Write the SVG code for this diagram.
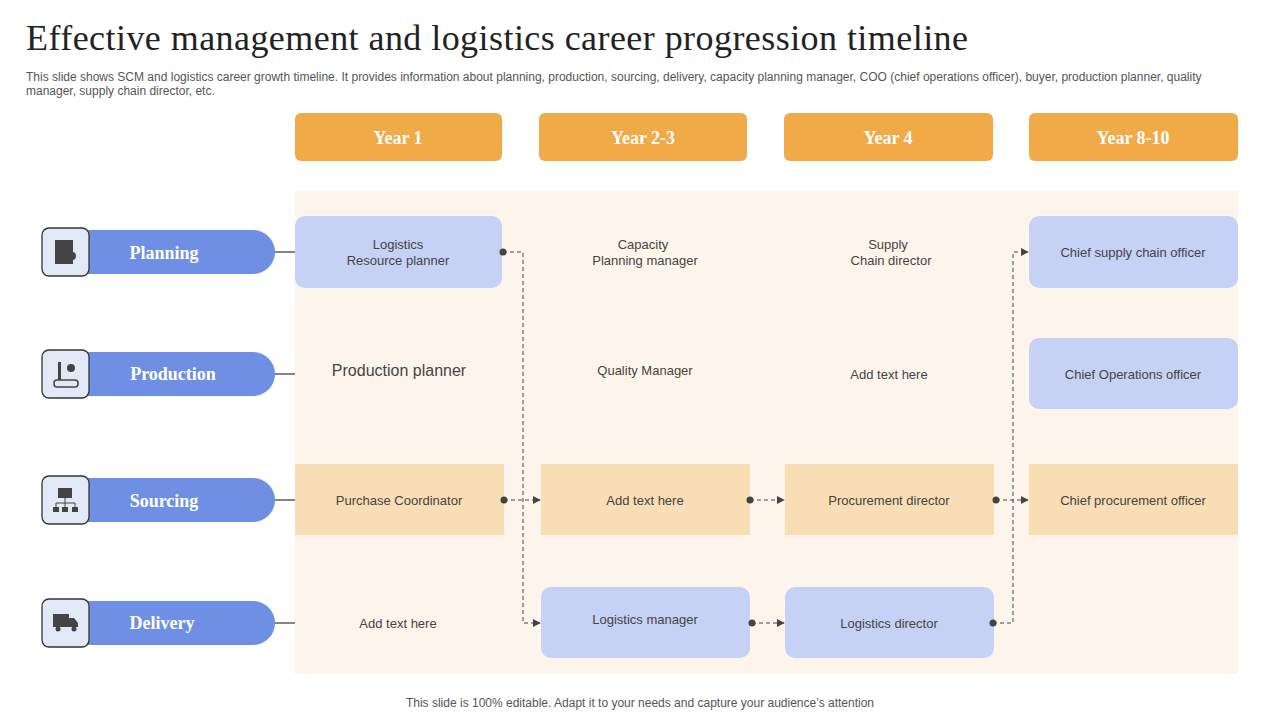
<svg xmlns="http://www.w3.org/2000/svg" width="1280" height="720" viewBox="0 0 1280 720">
<defs>
<style>
.title{font-family:"Liberation Serif",serif;font-size:36px;fill:#222}
.sub{font-family:"Liberation Sans",sans-serif;font-size:12px;fill:#555}
.hdr{fill:#F0AA48}
.hdrt{font-family:"Liberation Serif",serif;font-weight:bold;font-size:18px;fill:#fff;text-anchor:middle}
.pill{fill:#6F8FE5}
.pillt{font-family:"Liberation Serif",serif;font-weight:bold;font-size:18px;fill:#fff;text-anchor:middle}
.ibox{fill:#E3E8F7;stroke:#333;stroke-width:1.3}
.ic{fill:#444}
.blue{fill:#C5D2F5}
.org{fill:#F8DDB5}
.t{font-family:"Liberation Sans",sans-serif;font-size:13px;fill:#444;text-anchor:middle}
.con{fill:none;stroke:#444;stroke-width:1;stroke-dasharray:4 3}
.sol{stroke:#333;stroke-width:1.2}
</style>
<marker id="arr" viewBox="0 0 10 10" refX="9" refY="5" markerWidth="8" markerHeight="8" markerUnits="userSpaceOnUse" orient="auto"><path d="M0,0L10,5L0,10z" fill="#444"/></marker>
</defs>
<rect width="1280" height="720" fill="#fff"/>
<text class="title" x="26" y="50" textLength="942" lengthAdjust="spacing">Effective management and logistics career progression timeline</text>
<text class="sub" x="26" y="81">This slide shows SCM and logistics career growth timeline. It provides information about planning, production, sourcing, delivery, capacity planning manager, COO (chief operations officer), buyer, production planner, quality</text>
<text class="sub" x="26" y="95">manager, supply chain director, etc.</text>

<g id="headers">
<rect class="hdr" x="295" y="113" width="207" height="48" rx="6"/><text class="hdrt" x="398" y="144">Year 1</text>
<rect class="hdr" x="539" y="113" width="208" height="48" rx="6"/><text class="hdrt" x="643" y="144">Year 2-3</text>
<rect class="hdr" x="784" y="113" width="209" height="48" rx="6"/><text class="hdrt" x="888" y="144">Year 4</text>
<rect class="hdr" x="1029" y="113" width="209" height="48" rx="6"/><text class="hdrt" x="1133" y="144">Year 8-10</text>
</g>
<rect x="295" y="191" width="943" height="483" fill="#FDF5EC"/>

<g id="rows">
<line class="sol" x1="274" y1="252" x2="295" y2="252"/>
<line class="sol" x1="274" y1="374" x2="295" y2="374"/>
<line class="sol" x1="274" y1="500" x2="295" y2="500"/>
<line class="sol" x1="274" y1="623" x2="295" y2="623"/>
</g>
<g id="planning"><path class="pill" d="M70,230H253a22,22 0 0 1 0,44H70z"/><text class="pillt" x="164" y="259">Planning</text>
<rect class="ibox" x="42" y="228" width="47" height="48" rx="7"/><rect class="ic" x="55" y="240" width="18" height="24"/><circle class="ic" cx="72" cy="256" r="4"/></g>
<g id="production"><path class="pill" d="M70,352H253a22,22 0 0 1 0,44H70z"/><text class="pillt" x="173" y="380">Production</text>
<rect class="ibox" x="42" y="350" width="47" height="48" rx="7"/><rect class="ic" x="58" y="362" width="3" height="18"/><circle class="ic" cx="71" cy="368" r="4"/><rect x="54" y="380" width="24" height="7" rx="3" fill="none" stroke="#444" stroke-width="1.5"/></g>
<g id="sourcing"><path class="pill" d="M70,478H253a22,22 0 0 1 0,44H70z"/><text class="pillt" x="164" y="507">Sourcing</text>
<rect class="ibox" x="42" y="476" width="47" height="48" rx="7"/><rect class="ic" x="58" y="488" width="14" height="10"/><path d="M65,498V503M56,503H75M56,503V507M65,503V507M75,503V507" stroke="#444" fill="none"/><rect class="ic" x="53" y="507" width="6" height="5"/><rect class="ic" x="62" y="507" width="6" height="5"/><rect class="ic" x="72" y="507" width="6" height="5"/></g>
<g id="delivery"><path class="pill" d="M70,601H253a22,22 0 0 1 0,44H70z"/><text class="pillt" x="162" y="629">Delivery</text>
<rect class="ibox" x="42" y="599" width="47" height="48" rx="7"/><rect class="ic" x="53" y="614" width="16" height="13"/><path class="ic" d="M69,618H74L78,623V627H69z"/><circle class="ic" cx="58" cy="629" r="2.5"/><circle class="ic" cx="74" cy="629" r="2.5"/></g>

<g id="n1"><rect class="blue" x="295" y="216" width="207" height="72" rx="10"/><text class="t" x="398" y="249">Logistics</text><text class="t" x="398" y="265">Resource planner</text></g>
<g id="n2"><text class="t" x="643" y="249">Capacity</text><text class="t" x="645" y="265">Planning manager</text></g>
<g id="n3"><text class="t" x="888" y="249">Supply</text><text class="t" x="891" y="265">Chain director</text></g>
<g id="n4"><rect class="blue" x="1029" y="216" width="209" height="72" rx="10"/><text class="t" x="1133" y="257">Chief supply chain officer</text></g>
<g id="n5"><text class="t" x="399" y="376" style="font-size:16px">Production planner</text></g>
<g id="n6"><text class="t" x="645" y="375">Quality Manager</text></g>
<g id="n7"><text class="t" x="889" y="379">Add text here</text></g>
<g id="n8"><rect class="blue" x="1029" y="338" width="209" height="71" rx="10"/><text class="t" x="1133" y="379">Chief Operations officer</text></g>
<g id="n9"><rect class="org" x="295" y="464" width="209" height="71"/><text class="t" x="399" y="505">Purchase Coordinator</text></g>
<g id="n10"><rect class="org" x="541" y="464" width="209" height="71"/><text class="t" x="645" y="505">Add text here</text></g>
<g id="n11"><rect class="org" x="785" y="464" width="209" height="71"/><text class="t" x="889" y="505">Procurement  director</text></g>
<g id="n12"><rect class="org" x="1029" y="464" width="209" height="71"/><text class="t" x="1133" y="505">Chief procurement  officer</text></g>
<g id="n13"><text class="t" x="398" y="628">Add text here</text></g>
<g id="n14"><rect class="blue" x="541" y="587" width="209" height="71" rx="10"/><text class="t" x="645" y="624">Logistics manager</text></g>
<g id="n15"><rect class="blue" x="785" y="587" width="209" height="71" rx="10"/><text class="t" x="889" y="628">Logistics director</text></g>

<g id="connectors">
<path class="con" d="M503,252H523V623H540" marker-end="url(#arr)"/>
<path class="con" d="M504,500H540" marker-end="url(#arr)"/>
<path class="con" d="M750,500H784" marker-end="url(#arr)"/>
<path class="con" d="M996,500H1028" marker-end="url(#arr)"/>
<path class="con" d="M752,623H784" marker-end="url(#arr)"/>
<path class="con" d="M993,623H1013V252H1028" marker-end="url(#arr)"/>
<g fill="#444"><circle cx="503" cy="252" r="3.5"/><circle cx="504" cy="500" r="3.5"/><circle cx="750" cy="500" r="3.5"/><circle cx="996" cy="500" r="3.5"/><circle cx="752" cy="623" r="3.5"/><circle cx="993" cy="623" r="3.5"/></g>
</g>
<text class="sub" x="640" y="707" text-anchor="middle">This slide is 100% editable. Adapt it to your needs and capture your audience’s attention</text>
</svg>
